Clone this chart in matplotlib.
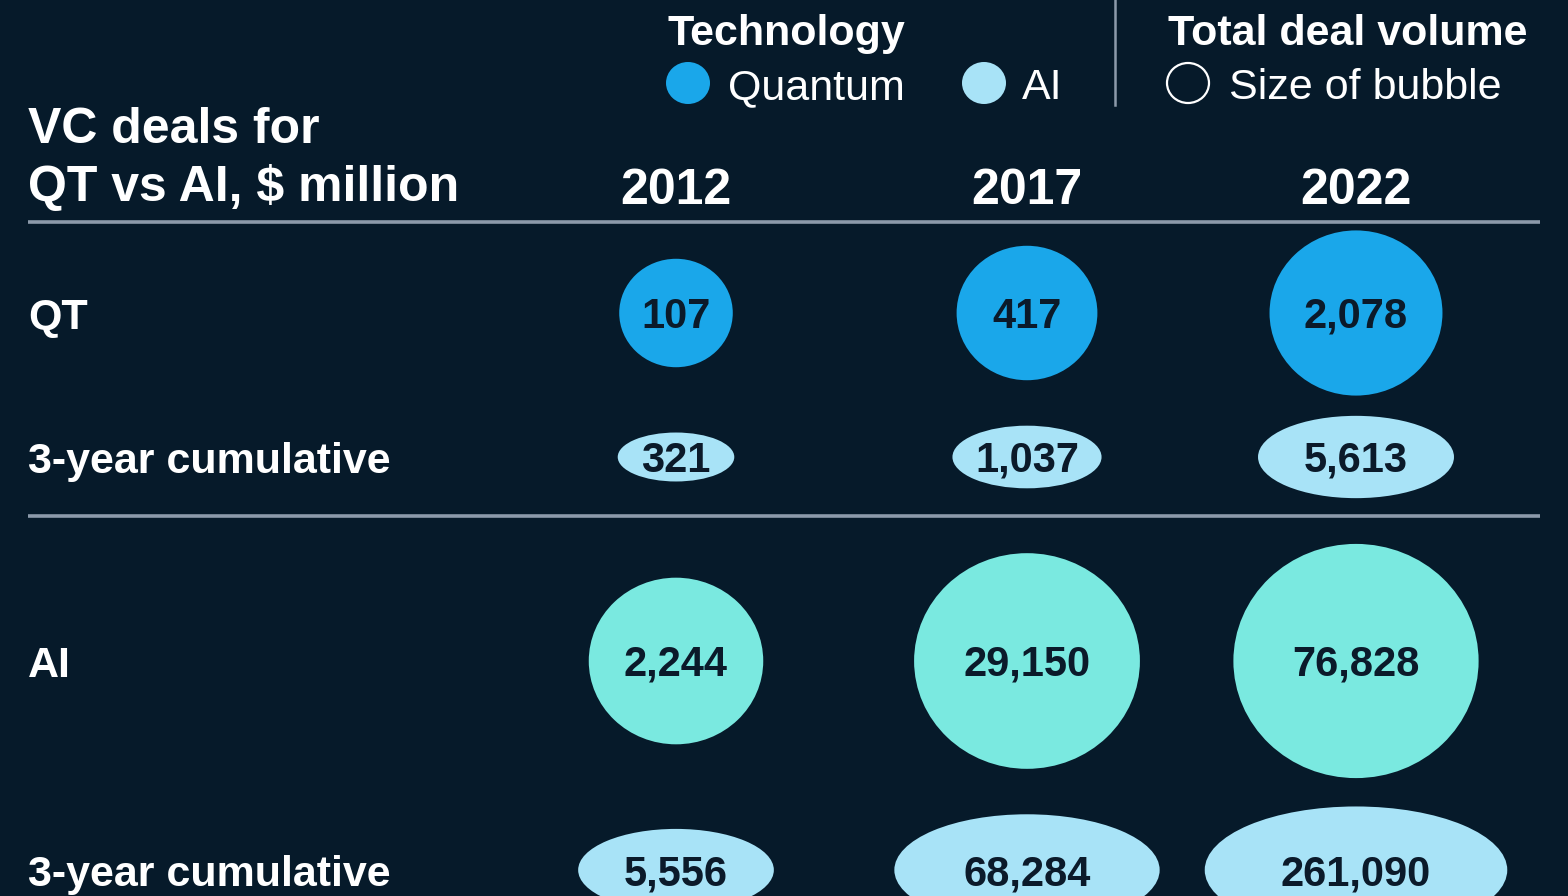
import numpy as np
import matplotlib
matplotlib.use('Agg')
import matplotlib.pyplot as plt
from matplotlib.patches import Ellipse

# ---- data ----
years = ['2012', '2017', '2022']
qt_deals = [107, 417, 2078]
qt_cumulative = [321, 1037, 5613]
ai_deals = [2244, 29150, 76828]
ai_cumulative = [5556, 68284, 261090]
row_labels = ['QT', '3-year cumulative', 'AI', '3-year cumulative']

# ---- style ----
BG = '#061a2a'
QT_COLOR = '#1aa7ea'
AI_COLOR = '#7ae9e0'
CUM_COLOR = '#a8e3f7'
LINE_COLOR = '#8c9aaa'
NUM_COLOR = '#0b1a2a'
FONT = 'Liberation Sans'

W, H = 1568, 896
fig = plt.figure(figsize=(W / 100, H / 100), dpi=100, facecolor=BG)
ax = fig.add_axes([0, 0, 1, 1])
ax.set_xlim(0, W)
ax.set_ylim(H, 0)
ax.set_facecolor(BG)
ax.axis('off')

col_x = [676, 1027, 1356]
row_y = [313, 457, 661, 870]


def main_width(v):
    # bubble width grows with log of deal volume
    return 20 + 46.1 * np.log10(v)


def cum_width(v):
    return -43.6 + 63.9 * np.log10(v)


rows = [
    (qt_deals, QT_COLOR, main_width, 0.955),
    (qt_cumulative, CUM_COLOR, cum_width, 0.42),
    (ai_deals, AI_COLOR, main_width, 0.955),
    (ai_cumulative, CUM_COLOR, cum_width, 0.42),
]

for (vals, color, wfun, ratio), y, label in zip(rows, row_y, row_labels):
    for x, v in zip(col_x, vals):
        w = wfun(v)
        ax.add_patch(Ellipse((x, y), w, w * ratio, facecolor=color,
                             edgecolor='none', zorder=2))
        ax.text(x, y + 15, f'{v:,}', ha='center', va='baseline',
                fontsize=30, fontweight='bold', color=NUM_COLOR,
                family=FONT, zorder=3)
    ax.text(28, y + 16, label, ha='left', va='baseline', fontsize=31,
            fontweight='bold', color='white', family=FONT)

# title and year headers
ax.text(28, 143, 'VC deals for', ha='left', va='baseline', fontsize=36,
        fontweight='bold', color='white', family=FONT)
ax.text(28, 201, 'QT vs AI, $ million', ha='left', va='baseline',
        fontsize=36, fontweight='bold', color='white', family=FONT)
for x, yr in zip(col_x, years):
    ax.text(x, 204, yr, ha='center', va='baseline', fontsize=36,
            fontweight='bold', color='white', family=FONT)

# separators
for y in [222, 516]:
    ax.plot([28, 1540], [y, y], color=LINE_COLOR, lw=2.6,
            solid_capstyle='butt')
ax.plot([1115, 1115], [0, 105], color=LINE_COLOR, lw=1.8)

# legend
ax.text(668, 45, 'Technology', ha='left', va='baseline', fontsize=31,
        fontweight='bold', color='white', family=FONT)
ax.add_patch(Ellipse((688, 83), 44, 42, facecolor=QT_COLOR, edgecolor='none'))
ax.text(728, 99, 'Quantum', ha='left', va='baseline', fontsize=31,
        color='white', family=FONT)
ax.add_patch(Ellipse((984, 83), 44, 42, facecolor=CUM_COLOR, edgecolor='none'))
ax.text(1022, 99, 'AI', ha='left', va='baseline', fontsize=31,
        color='white', family=FONT)
ax.text(1168, 45, 'Total deal volume', ha='left', va='baseline',
        fontsize=31, fontweight='bold', color='white', family=FONT)
ax.add_patch(Ellipse((1188, 83), 42, 40, facecolor='none', edgecolor='white',
                     lw=1.6))
ax.text(1229, 99, 'Size of bubble', ha='left', va='baseline', fontsize=31,
        color='white', family=FONT)

fig.savefig('out.png', dpi=100, facecolor=BG)
